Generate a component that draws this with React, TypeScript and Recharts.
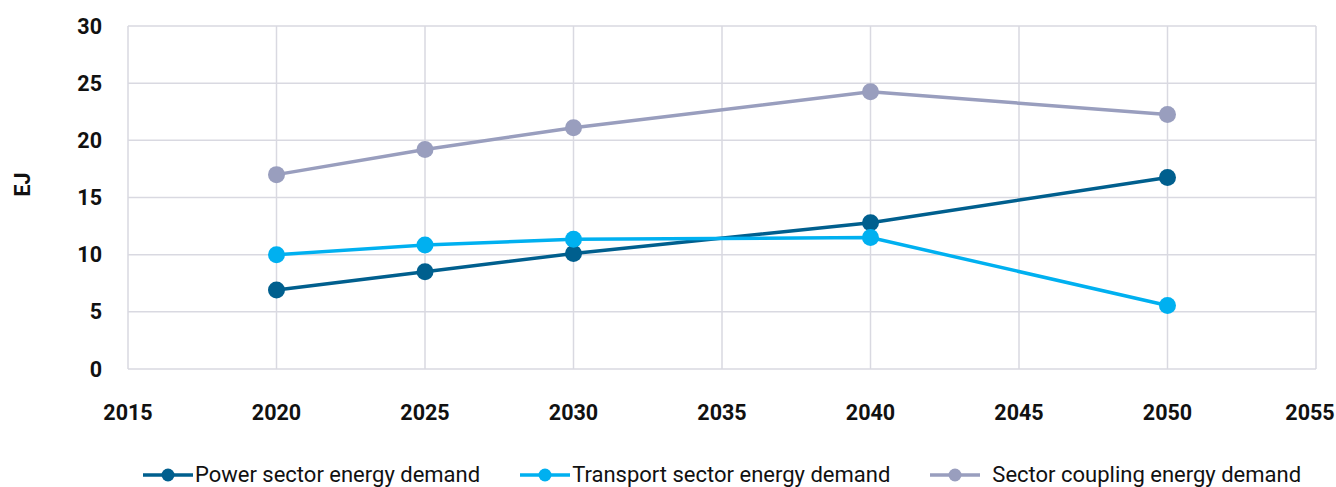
import React from "react";
import { LineChart, Line, XAxis, YAxis, CartesianGrid, Legend } from "recharts";

// values (EJ)
const years = [2020, 2025, 2030, 2040, 2050];
const powerDemand = [6.9, 8.5, 10.1, 12.8, 16.75];
const transportDemand = [10.0, 10.85, 11.35, 11.5, 5.55];
const couplingDemand = [17.0, 19.2, 21.1, 24.25, 22.25];

const xTicks = [2015, 2020, 2025, 2030, 2035, 2040, 2045, 2050, 2055];
const yTicks = [0, 5, 10, 15, 20, 25, 30];

const seriesNames = [
  "Power sector energy demand",
  "Transport sector energy demand",
  "Sector coupling energy demand",
];
const seriesColors = ["#005F8E", "#00B0F0", "#999EBE"];

const data = years.map((year, i) => ({
  year,
  power: powerDemand[i],
  transport: transportDemand[i],
  coupling: couplingDemand[i],
}));

const FONT = "Roboto, 'Noto Sans', sans-serif";
const tickStyle = { fontFamily: FONT, fontSize: 21.5, fontWeight: 700, fill: "#111" };

// x tick that keeps the last label inside the picture
const XTick = (props: any) => {
  const { x, y, payload } = props;
  const half = 24;
  const cx = Math.min(x, 1334 - half);
  return (
    <text x={cx} y={y} dy="0.71em" textAnchor="middle" style={tickStyle}>
      {payload.value}
    </text>
  );
};

const LegendContent = (props: any) => {
  const items = [...(props.payload || [])].sort(
    (a: any, b: any) => seriesNames.indexOf(a.value) - seriesNames.indexOf(b.value)
  );
  return (
    <div
      style={{
        display: "flex",
        justifyContent: "center",
        gap: 40,
        height: 24,
        lineHeight: "24px",
        fontFamily: FONT,
        fontSize: 22,
        color: "#111",
      }}
    >
      {items.map((item: any, i: number) => (
        <div key={item.value} style={{ display: "flex", alignItems: "center" }}>
          <svg width={50} height={24} style={{ marginRight: i === 2 ? 12 : 2 }}>
            <line x1={0} y1={12} x2={50} y2={12} stroke={item.color} strokeWidth={3.5} />
            <circle cx={25} cy={12} r={6.5} fill={item.color} />
          </svg>
          <span>{item.value}</span>
        </div>
      ))}
    </div>
  );
};

const YLabel = (props: any) => {
  const vb = props.viewBox || {};
  const cx = 22;
  const cy = vb.y + vb.height / 2 - 13;
  return (
    <text
      x={cx}
      y={cy}
      transform={`rotate(-90, ${cx}, ${cy})`}
      textAnchor="middle"
      dominantBaseline="central"
      style={{ fontFamily: FONT, fontSize: 21.5, fontWeight: 700, fill: "#111" }}
    >
      EJ
    </text>
  );
};

export default function App() {
  return (
    <div style={{ position: "absolute", left: 0, top: 0, background: "#fff" }}>
      <LineChart
        width={1336}
        height={487}
        data={data}
        margin={{ top: 26, right: 20, bottom: 0, left: 0 }}
      >
        <CartesianGrid stroke="#D9D9E1" strokeWidth={1.5} />
        <XAxis
          dataKey="year"
          type="number"
          domain={[2015, 2055]}
          ticks={xTicks}
          height={94}
          axisLine={false}
          tickLine={false}
          tickMargin={30}
          tick={<XTick />}
          interval={0}
        />
        <YAxis
          domain={[0, 30]}
          ticks={yTicks}
          width={128}
          axisLine={false}
          tickLine={false}
          tickMargin={20}
          tick={tickStyle}
          interval={0}
          label={<YLabel />}
        />
        <Legend
          verticalAlign="bottom"
          content={<LegendContent />}
          wrapperStyle={{ left: 128, width: 1188 }}
        />
        <Line
          dataKey="power"
          name={seriesNames[0]}
          stroke={seriesColors[0]}
          strokeWidth={3.5}
          dot={{ r: 8.5, fill: seriesColors[0], stroke: "none" }}
          activeDot={false}
          isAnimationActive={false}
        />
        <Line
          dataKey="transport"
          name={seriesNames[1]}
          stroke={seriesColors[1]}
          strokeWidth={3.5}
          dot={{ r: 8.5, fill: seriesColors[1], stroke: "none" }}
          activeDot={false}
          isAnimationActive={false}
        />
        <Line
          dataKey="coupling"
          name={seriesNames[2]}
          stroke={seriesColors[2]}
          strokeWidth={3.5}
          dot={{ r: 8.5, fill: seriesColors[2], stroke: "none" }}
          activeDot={false}
          isAnimationActive={false}
        />
      </LineChart>
    </div>
  );
}
